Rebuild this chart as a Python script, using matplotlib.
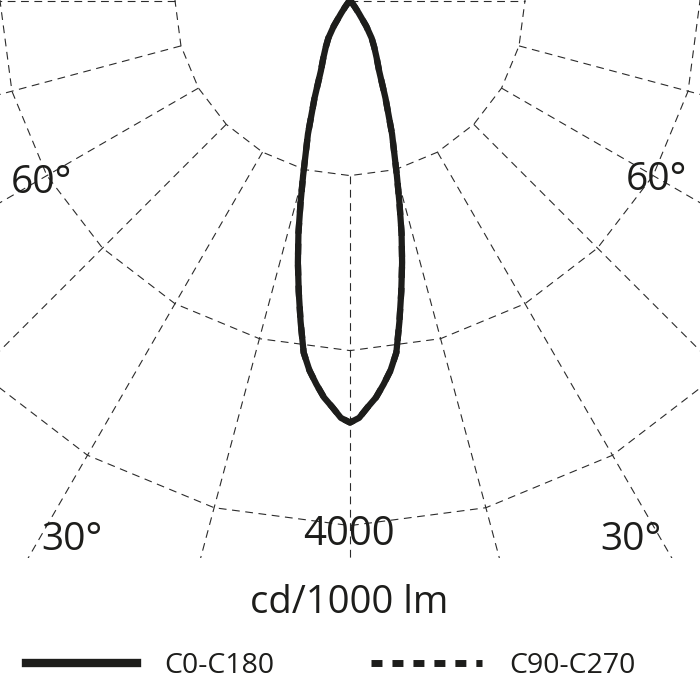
import numpy as np
import matplotlib.pyplot as plt
from matplotlib.lines import Line2D

plt.rcParams['font.family'] = ['Open Sans', 'DejaVu Sans']
plt.rcParams['lines.scale_dashes'] = False

# luminous intensity, cd/1000 lm, by angle from nadir (deg)
angles = [0, 1.25, 2.5, 3.75, 5, 6.25, 7.5, 8.75, 10, 11.25, 12.5, 13.75, 15,
          17.5, 20, 22.5, 25, 27.5, 30, 32.5, 35, 37.5, 40, 45, 50, 60, 70, 80, 90]
c0_c180 = [3215, 3180, 3100, 3030, 2935, 2835, 2705, 2475, 2250, 2035, 1815, 1585, 1380,
           1065, 790, 580, 480, 400, 330, 230, 115, 60, 30, 0, 0, 0, 0, 0, 0]
c90_c270 = [3215, 3180, 3100, 3030, 2935, 2835, 2705, 2475, 2250, 2035, 1815, 1585, 1380,
            1065, 790, 580, 480, 400, 330, 230, 115, 60, 30, 0, 0, 0, 0, 0, 0]

ring_values = [4000 / 3, 8000 / 3, 4000]
ring_label = '4000'
grid_angles = np.arange(-90, 76, 15)
unit_label = 'cd/1000 lm'
legend_labels = ['C0-C180', 'C90-C270']

W = H = 700
s = 4000 / 525  # cd per pixel


def px(x, y):
    return x / W, 1 - y / H


def curve_xy(vals):
    a = np.array(angles, dtype=float)
    v = np.array(vals, dtype=float)
    th = np.radians(np.concatenate([-a[::-1], a[1:]]))
    r = np.concatenate([v[::-1], v[1:]])
    return r * np.sin(th), -r * np.cos(th)


fig = plt.figure(figsize=(7, 7), dpi=100)
ax = fig.add_axes([0, 1 - 558 / H, 1, 558 / H])
ax.set_xlim(-350 * s, 350 * s)
ax.set_ylim(-557.4 * s, 0.6 * s)
ax.axis('off')

gcol = '#2b2b2b'
gdash = (0, (5.6, 4.0))
poly_th = np.radians(np.arange(-180, 181, 15))
for rv in ring_values:
    ax.plot(rv * np.sin(poly_th), -rv * np.cos(poly_th), color=gcol, lw=0.8,
            ls=gdash)
for g in grid_angles:
    t = np.radians(g)
    rr = np.array([ring_values[0], 20000])
    ax.plot(rr * np.sin(t), -rr * np.cos(t), color=gcol, lw=0.8, ls=gdash)
# 90 deg line on the right side only runs inside the first ring
ax.plot([0, ring_values[0]], [0, 0], color=gcol, lw=0.8, ls=gdash)

x, y = curve_xy(c90_c270)
ax.plot(x, y, color='#1d1d1b', lw=4.5, ls=(0, (7.9, 7.2)))
x, y = curve_xy(c0_c180)
ax.plot(x, y, color='#1d1d1b', lw=4.5, solid_joinstyle='round')

tcol = '#1d1d1b'
fig.text(*px(349, 545), ring_label, ha='center', va='baseline', fontsize=29, color=tcol)
fig.text(*px(349, 613), unit_label, ha='center', va='baseline', fontsize=27.5, color=tcol)
fig.text(*px(11, 193), '60°', ha='left', va='baseline', fontsize=28, color=tcol)
fig.text(*px(626, 190), '60°', ha='left', va='baseline', fontsize=28, color=tcol)
fig.text(*px(41, 550), '30°', ha='left', va='baseline', fontsize=28, color=tcol)
fig.text(*px(600, 550), '30°', ha='left', va='baseline', fontsize=28, color=tcol)

handles = [Line2D([], [], color='#1d1d1b', lw=6),
           Line2D([], [], color='#1d1d1b', lw=5, ls=(0, (7.9, 7.2)))]
fig.legend(handles, legend_labels, loc='center left', bbox_to_anchor=px(26, 666),
           ncol=2, frameon=False, fontsize=20.5, handlelength=3.9, handletextpad=0.95,
           columnspacing=3.4, borderpad=0, borderaxespad=0, labelcolor=tcol)

fig.savefig('out.png', dpi=100, facecolor='white')
